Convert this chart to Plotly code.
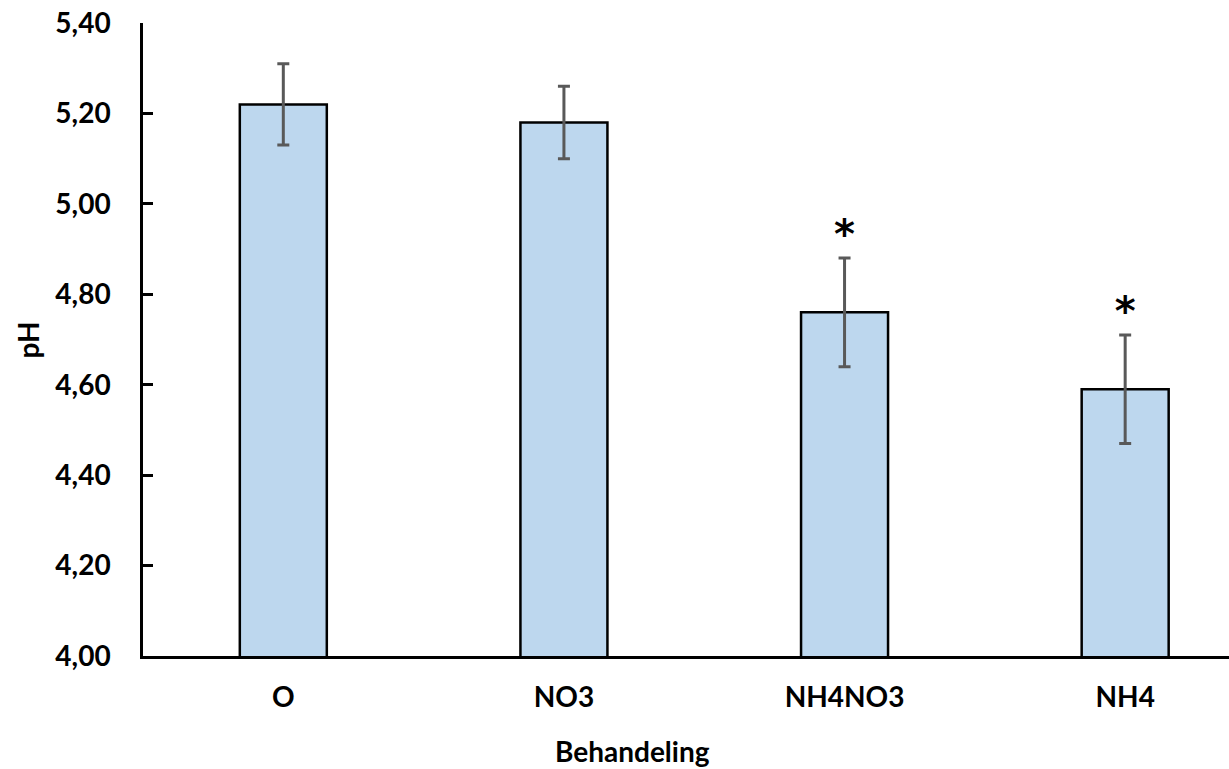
import plotly.graph_objects as go

categories = ["O", "NO3", "NH4NO3", "NH4"]
ph_mean = [5.22, 5.18, 4.76, 4.59]
ph_upper = [5.31, 5.26, 4.88, 4.71]
ph_lower = [5.13, 5.10, 4.64, 4.47]
significant = [False, False, True, True]
y_ticks = [4.0, 4.2, 4.4, 4.6, 4.8, 5.0, 5.2, 5.4]
y_tick_labels = ["4,00", "4,20", "4,40", "4,60", "4,80", "5,00", "5,20", "5,40"]

err_plus = [u - m for u, m in zip(ph_upper, ph_mean)]
err_minus = [m - l for m, l in zip(ph_mean, ph_lower)]

FONT = "Lato"
FS = 28

fig = go.Figure()
fig.add_trace(go.Bar(
    x=categories, y=ph_mean, base=0,
    width=0.31,
    marker=dict(color="#BDD7EE", line=dict(color="black", width=2.5)),
    error_y=dict(type="data", array=err_plus, arrayminus=err_minus,
                 color="#595959", thickness=3, width=6),
    showlegend=False,
))

star_x = [c for c, s in zip(categories, significant) if s]
star_y = [u for u, s in zip(ph_upper, significant) if s]
fig.add_trace(go.Scatter(
    x=star_x, y=star_y, mode="text", text=["<b>*</b>"] * len(star_x),
    textposition="top center",
    textfont=dict(family="DejaVu Sans", size=40, color="black"),
    showlegend=False, hoverinfo="skip",
))

fig.add_annotation(
    text="<b>Behandeling</b>", xref="paper", yref="paper",
    x=0.451, y=0, xanchor="center", yanchor="middle", yshift=-95,
    showarrow=False, font=dict(family=FONT, size=FS, color="black"),
)
fig.add_annotation(
    text="<b>pH</b>", xref="paper", yref="paper",
    x=-0.106, y=0.5, xanchor="center", yanchor="middle", textangle=-90,
    showarrow=False, font=dict(family=FONT, size=FS, color="black"),
)

fig.update_layout(
    width=1229, height=769,
    margin=dict(l=143, r=0, t=23, b=113, autoexpand=False),
    plot_bgcolor="white", paper_bgcolor="white",
    font=dict(family=FONT, size=FS, color="black"),
)
fig.update_xaxes(
    type="category", range=[-0.5, 3.37], automargin=False,
    showline=True, linecolor="black", linewidth=2.5,
    ticks="", showgrid=False, zeroline=False,
    ticklabelstandoff=15,
    tickfont=dict(family=FONT, size=FS, color="black", weight="bold"),
)
fig.update_yaxes(
    range=[4.0, 5.4], tickvals=y_ticks, ticktext=y_tick_labels,
    automargin=False,
    showline=True, linecolor="black", linewidth=2.5,
    ticks="inside", ticklen=10, tickwidth=2.5, tickcolor="black",
    showgrid=False, zeroline=False,
    ticklabelstandoff=24, ticklabeloverflow="allow",
    tickfont=dict(family=FONT, size=FS, color="black", weight="bold"),
)

fig.write_html("out.html",
               config={"displayModeBar": False},
               post_script="document.body.style.margin='0';")
